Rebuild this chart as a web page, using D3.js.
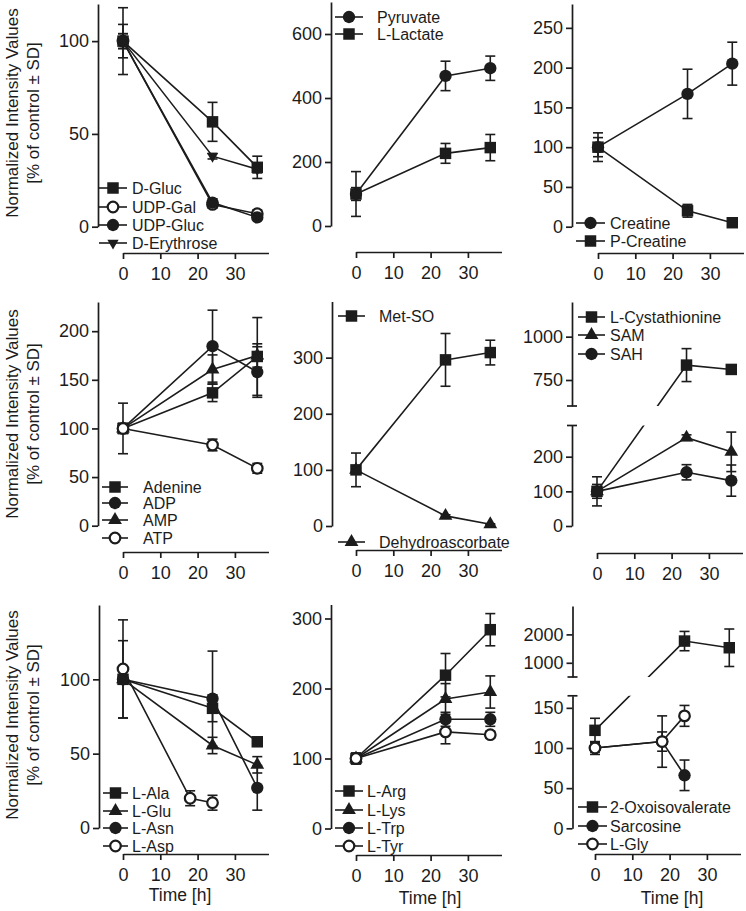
<!DOCTYPE html>
<html><head><meta charset="utf-8">
<script src="https://cdn.jsdelivr.net/npm/d3@7"></script>
<style>
body{margin:0;background:#fff}
svg{display:block}
text{font-family:"Liberation Sans",Arial,Helvetica,sans-serif;fill:#1c1c1c}
</style>
</head><body>
<svg id="c" width="746" height="911"></svg>
<script>
// ---------- data ----------
const xTicks = [0, 10, 20, 30];
const X_MAX = 39;
const t3 = [0, 24, 36];
const t18 = [0, 18, 24];

// Panel 1
const dGluc = [100, 56.5, 32],   dGlucSD = [18, 10.5, 6];
const udpGal = [100, 12, 7],     udpGalSD = [4, 2, 2];
const udpGluc = [100, 13, 5],    udpGlucSD = [4, 2, 1];
const dEry = [100, 38, 31],      dErySD = [9, 1.5, 2];
// Panel 2
const pyruvate = [100, 469, 493], pyruvateSD = [70, 46, 38];
const lLactate = [100, 227, 245], lLactateSD = [20, 31, 41];
// Panel 3
const creatine = [100, 167, 205], creatineSD = [18, 31, 27];
const pCreatine = [100, 20, 5],   pCreatineSD = [12, 8, 2];
// Panel 4
const adenine = [100, 136.6, 174], adenineSD = [5, 9, 40];
const adp = [100, 184.6, 158],     adpSD = [26, 37, 26];
const amp = [100, 160.6, 175],     ampSD = [5, 15, 12];
const atp = [100, 83, 59],         atpSD = [5, 6, 5];
// Panel 5
const metSO = [100, 296, 309],   metSOSD = [30, 47, 22];
const dehydro = [100, 18, 3],    dehydroSD = [5, 2, 1];
// Panel 6
const cysta = [100, 836, 811],   cystaSD = [10, 95, 15];
const sam = [100, 255, 214],     samSD = [20, 8, 57];
const sah = [100, 155, 131],     sahSD = [42, 22, 45];
// Panel 7
const ala = [100, 80.5, 58],     alaSD = [3, 9, 3];
const glu = [100, 55.5, 42.5],   gluSD = [3, 5.5, 5.5];
const asn = [100, 87, 27],       asnSD = [26, 32, 15];
const asp = [107, 20, 17],       aspSD = [33, 5, 5];
// Panel 8
const arg = [100, 219, 284],     argSD = [5, 31, 23];
const lys = [100, 185, 195],     lysSD = [5, 22, 23];
const trp = [100, 156, 156],     trpSD = [8, 10, 10];
const tyr = [100, 138, 134],     tyrSD = [5, 17, 5];
// Panel 9
const oxo = [122, 1765, 1530],   oxoSD = [15, 340, 660];
const sarc = [100, 108, 66],     sarcSD = [8, 32, 19];
const gly = [100, 108, 140],     glySD = [5, 12, 13];

// y tick labels
const ticks1 = [0, 50, 100];
const ticks2 = [0, 200, 400, 600];
const ticks3 = [0, 50, 100, 150, 200, 250];
const ticks4 = [0, 50, 100, 150, 200];
const ticks5 = [0, 100, 200, 300];
const ticks6lo = [0, 100, 200], ticks6hi = [750, 1000];
const ticks7 = [0, 50, 100];
const ticks8 = [0, 100, 200, 300];
const ticks9lo = [0, 50, 100, 150], ticks9hi = [1000, 2000];

const S = (name, shape, x, y, sd) => ({name, shape, x, y, sd});

// ---------- panel layout ----------
const panels = [
  {ax:98, x0:123, xAxisY:253,
   segs:[{d:[0,120], r:[226.7,4], ticks:ticks1}],
   series:[S('D-Gluc','square',t3,dGluc,dGlucSD), S('UDP-Gal','ocircle',t3,udpGal,udpGalSD),
           S('UDP-Gluc','circle',t3,udpGluc,udpGlucSD), S('D-Erythrose','tridown',t3,dEry,dErySD)],
   leg:{l1:99, l2:127, tx:132, ys:[188,207,225,243]}},
  {ax:331, x0:356, xAxisY:252,
   segs:[{d:[0,700], r:[226,2], ticks:ticks2}],
   series:[S('Pyruvate','circle',t3,pyruvate,pyruvateSD), S('L-Lactate','square',t3,lLactate,lLactateSD)],
   leg:{l1:335, l2:363, tx:377, ys:[17,34]}},
  {ax:572, x0:598, xAxisY:253,
   segs:[{d:[0,280], r:[226.7,4], ticks:ticks3}],
   series:[S('Creatine','circle',t3,creatine,creatineSD), S('P-Creatine','square',t3,pCreatine,pCreatineSD)],
   leg:{l1:576, l2:605, tx:610, ys:[223,241]}},
  {ax:98, x0:123, xAxisY:552,
   segs:[{d:[0,230], r:[525.7,302], ticks:ticks4}],
   series:[S('Adenine','square',t3,adenine,adenineSD), S('ADP','circle',t3,adp,adpSD),
           S('AMP','tri',t3,amp,ampSD), S('ATP','ocircle',t3,atp,atpSD)],
   leg:{l1:102, l2:128, tx:143, ys:[487,503,520,538]}},
  {ax:332, x0:356, xAxisY:550,
   segs:[{d:[0,400], r:[526,301.5], ticks:ticks5}],
   series:[S('Met-SO','square',t3,metSO,metSOSD), S('Dehydroascorbate','tri',t3,dehydro,dehydroSD)],
   leg:{l1:338, l2:365, tx:379, ys:[316,542]}},
  {ax:572, x0:597, xAxisY:553,
   segs:[{d:[0,290], r:[526,425.5], ticks:ticks6lo}, {d:[600,1200], r:[406,302], ticks:ticks6hi}],
   series:[S('L-Cystathionine','square',t3,cysta,cystaSD), S('SAM','tri',t3,sam,samSD),
           S('SAH','circle',t3,sah,sahSD)],
   leg:{l1:578, l2:605, tx:610, ys:[317,335,354]}},
  {ax:99, x0:123, xAxisY:854,
   segs:[{d:[0,150], r:[828,605], ticks:ticks7}],
   series:[S('L-Ala','square',t3,ala,alaSD), S('L-Glu','tri',t3,glu,gluSD),
           S('L-Asn','circle',t3,asn,asnSD), S('L-Asp','ocircle',t18,asp,aspSD)],
   leg:{l1:103, l2:128, tx:132, ys:[793,811,828,846]}},
  {ax:331, x0:356, xAxisY:855,
   segs:[{d:[0,320], r:[828.5,604.5], ticks:ticks8}],
   series:[S('L-Arg','square',t3,arg,argSD), S('L-Lys','tri',t3,lys,lysSD),
           S('L-Trp','circle',t3,trp,trpSD), S('L-Tyr','ocircle',t3,tyr,tyrSD)],
   leg:{l1:335, l2:363, tx:367, ys:[791,810,828,846]}},
  {ax:572.5, x0:595, xAxisY:854,
   segs:[{d:[0,165], r:[828.3,695.8], ticks:ticks9lo}, {d:[500,3000], r:[677,606], ticks:ticks9hi}],
   series:[S('2-Oxoisovalerate','square',t3,oxo,oxoSD), S('Sarcosine','circle',t18,sarc,sarcSD),
           S('L-Gly','ocircle',t18,gly,glySD)],
   leg:{l1:578, l2:607, tx:610, ys:[807,826,844]}}
];

const yTitleRows = [113, 414, 715];
const timeLabels = [[180, 901], [430, 904], [672, 904]];

// ---------- drawing ----------
const svg = d3.select('#c');
const INK = '#1c1c1c';
const TICK_FONT = 18, LEG_FONT = 16;

function marker(g, shape, cx, cy) {
  const sym = {square:d3.symbolSquare, circle:d3.symbolCircle, ocircle:d3.symbolCircle,
               tri:d3.symbolTriangle, tridown:d3.symbolTriangle}[shape];
  const size = {square:132, circle:120, ocircle:88, tri:82, tridown:55}[shape];
  const p = g.append('path').attr('d', d3.symbol(sym, size)())
    .attr('transform', `translate(${cx},${cy})` + (shape === 'tridown' ? ' rotate(180)' : ''));
  if (shape === 'ocircle') p.attr('fill', '#fff').attr('stroke', INK).attr('stroke-width', 2.2);
  else p.attr('fill', INK);
}

let clipId = 0;
panels.forEach(p => {
  const g = svg.append('g');
  const x = d3.scaleLinear().domain([0, X_MAX]).range([p.x0, p.x0 + X_MAX * 3.73]);
  const ys = p.segs.map(s => d3.scaleLinear().domain(s.d).range(s.r));
  const segOf = v => { for (let i = 0; i < p.segs.length; i++) { const d = p.segs[i].d; if (v >= d[0] && v <= d[1]) return i; } return p.segs.length - 1; };
  const yOf = v => ys[segOf(v)](v);

  // y axes
  p.segs.forEach((s, i) => {
    const ag = g.append('g').attr('transform', `translate(${p.ax},0)`)
      .call(d3.axisLeft(ys[i]).tickValues(s.ticks).tickSize(6).tickPadding(3).tickSizeOuter(0).tickFormat(d3.format('d')));
    ag.selectAll('text').attr('font-size', TICK_FONT).style('font-family', '"Liberation Sans",Arial,sans-serif');
    ag.selectAll('path,line').attr('stroke', INK).attr('stroke-width', 1.7);
    if (p.segs.length > 1) {
      const capY = i === 0 ? ys[i](s.d[1]) : ys[i](s.d[0]);
      g.append('line').attr('x1', p.ax - 5).attr('x2', p.ax + 5).attr('y1', capY).attr('y2', capY)
        .attr('stroke', INK).attr('stroke-width', 1.7);
    }
  });
  // x axis
  const xg = g.append('g').attr('transform', `translate(0,${p.xAxisY})`)
    .call(d3.axisBottom(x).tickValues(xTicks).tickSize(6).tickPadding(8).tickSizeOuter(0));
  xg.selectAll('text').attr('font-size', TICK_FONT).style('font-family', '"Liberation Sans",Arial,sans-serif');
  xg.selectAll('path,line').attr('stroke', INK).attr('stroke-width', 1.7);

  // clip paths for broken axes
  const clips = [];
  if (p.segs.length > 1) {
    p.segs.forEach((s, i) => {
      const id = 'clip' + (clipId++);
      const top = i === 0 ? s.r[1] : 0;
      const bot = i === 0 ? 911 : s.r[0];
      svg.append('clipPath').attr('id', id).append('rect')
        .attr('x', 0).attr('width', 746).attr('y', top).attr('height', bot - top);
      clips.push(id);
    });
  }

  const line = d3.line();
  // lines
  p.series.forEach(se => {
    const pts = se.x.map((t, i) => [x(t), yOf(se.y[i])]);
    if (clips.length) {
      clips.forEach(id => g.append('path').attr('d', line(pts)).attr('fill', 'none')
        .attr('stroke', INK).attr('stroke-width', 1.6).attr('clip-path', `url(#${id})`));
    } else {
      g.append('path').attr('d', line(pts)).attr('fill', 'none').attr('stroke', INK).attr('stroke-width', 1.6);
    }
  });
  // error bars
  p.series.forEach(se => {
    se.x.forEach((t, i) => {
      const v = se.y[i], sd = se.sd[i];
      if (!sd) return;
      const sc = ys[segOf(v)];
      const cx = x(t), yt = sc(v + sd), yb = sc(v - sd);
      g.append('line').attr('x1', cx).attr('x2', cx).attr('y1', yt).attr('y2', yb).attr('stroke', INK).attr('stroke-width', 1.6);
      [yt, yb].forEach(yy => g.append('line').attr('x1', cx - 5).attr('x2', cx + 5).attr('y1', yy).attr('y2', yy)
        .attr('stroke', INK).attr('stroke-width', 1.6));
    });
  });
  // markers
  p.series.forEach(se => se.x.forEach((t, i) => marker(g, se.shape, x(t), yOf(se.y[i]))));

  // legend
  p.series.forEach((se, i) => {
    const ly = p.leg.ys[i];
    g.append('line').attr('x1', p.leg.l1).attr('x2', p.leg.l2).attr('y1', ly).attr('y2', ly)
      .attr('stroke', INK).attr('stroke-width', 1.6);
    marker(g, se.shape, (p.leg.l1 + p.leg.l2) / 2, ly);
    g.append('text').attr('x', p.leg.tx).attr('y', ly).attr('dy', '0.36em')
      .attr('font-size', LEG_FONT).text(se.name);
  });
});

// y-axis titles
yTitleRows.forEach(cy => {
  const t = svg.append('g').attr('transform', `translate(0,${cy}) rotate(-90)`);
  t.append('text').attr('x', 0).attr('y', 18).attr('text-anchor', 'middle').attr('font-size', 17)
    .text('Normalized Intensity Values');
  t.append('text').attr('x', 0).attr('y', 39).attr('text-anchor', 'middle').attr('font-size', 17)
    .text('[% of control ± SD]');
});
// x-axis titles
timeLabels.forEach(([cx, by]) => {
  svg.append('text').attr('x', cx).attr('y', by).attr('text-anchor', 'middle').attr('font-size', 17.5).text('Time [h]');
});
</script>
</body></html>
